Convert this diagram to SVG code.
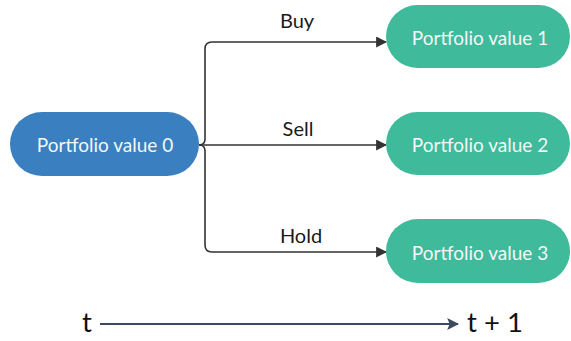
<svg xmlns="http://www.w3.org/2000/svg" width="571" height="341" viewBox="0 0 571 341">
<defs>
<style>
.node-blue{fill:#3a7fc0}
.node-green{fill:#3fba9a}
.ntext{font-family:Lato,"Open Sans",sans-serif;font-size:19px;fill:#f4f7f6;text-anchor:middle;dominant-baseline:central}
.lbl{font-family:Lato,"Open Sans",sans-serif;font-size:20px;fill:#1a1a1a;text-anchor:middle}
.conn{fill:none;stroke:#333;stroke-width:1.6}
.time{font-family:Lato,"Open Sans",sans-serif;font-size:27.5px;fill:#111}
</style>
<marker id="ah" viewBox="0 0 10 10" refX="9" refY="5" markerWidth="11" markerHeight="11" markerUnits="userSpaceOnUse" orient="auto">
<path d="M0,0 L10,5 L0,10 z" fill="#333"/>
</marker>
<marker id="ah2" viewBox="0 0 10 10" refX="9" refY="5" markerWidth="12" markerHeight="12" markerUnits="userSpaceOnUse" orient="auto">
<path d="M0,0 L10,5 L0,10 L2,5 z" fill="#3c4a60"/>
</marker>
</defs>
<g id="connectors">
<path class="conn" d="M199,145 Q205,145 205,139 V49 Q205,42 212,42 H386" marker-end="url(#ah)"/>
<path class="conn" d="M199,145 H386" marker-end="url(#ah)"/>
<path class="conn" d="M199,145 Q205,145 205,151 V245 Q205,252 212,252 H386" marker-end="url(#ah)"/>
<text class="lbl" x="297" y="28">Buy</text>
<text class="lbl" x="298" y="136">Sell</text>
<text class="lbl" x="301" y="243">Hold</text>
</g>
<g id="node0">
<rect class="node-blue" x="10" y="112" width="189" height="64" rx="32"/>
<text class="ntext" x="105" y="144">Portfolio value 0</text>
</g>
<g id="node1">
<rect class="node-green" x="386" y="5" width="184" height="63" rx="31.5"/>
<text class="ntext" x="480" y="37">Portfolio value 1</text>
</g>
<g id="node2">
<rect class="node-green" x="386" y="112" width="184" height="63" rx="31.5"/>
<text class="ntext" x="480" y="144">Portfolio value 2</text>
</g>
<g id="node3">
<rect class="node-green" x="386" y="219" width="184" height="64" rx="32"/>
<text class="ntext" x="480" y="252">Portfolio value 3</text>
</g>
<g id="timeline">
<line x1="100" y1="324" x2="458" y2="324" stroke="#3c4a60" stroke-width="2" marker-end="url(#ah2)"/>
<text class="time" x="82" y="332">t</text>
<text class="time" x="467" y="332">t + 1</text>
</g>
</svg>
